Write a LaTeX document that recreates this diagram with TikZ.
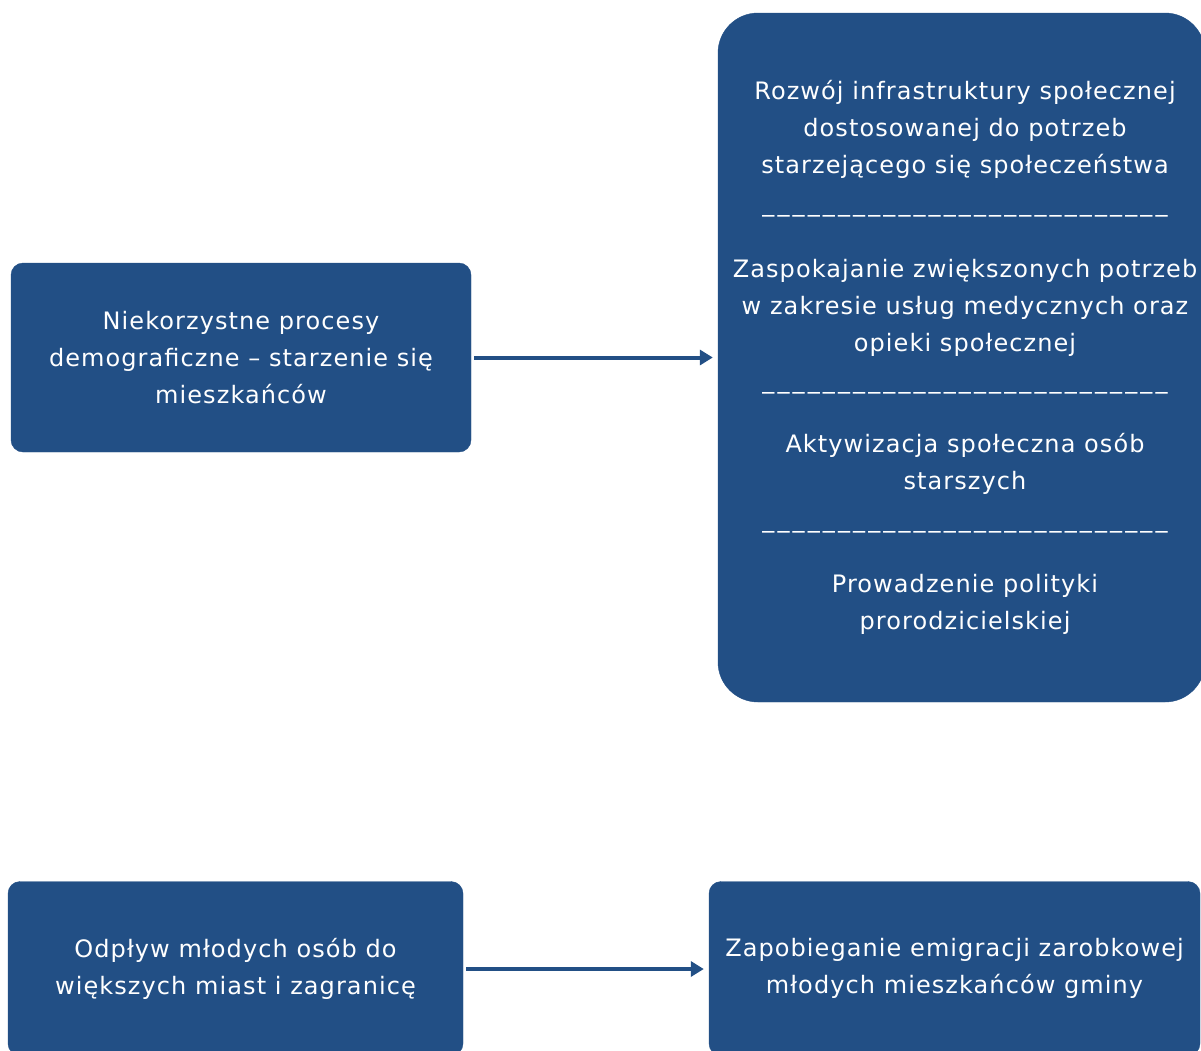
\documentclass[tikz,border=0pt]{standalone}
\usepackage{fontspec}
\setmainfont{DejaVu Sans}[LetterSpace=4.5]
\usetikzlibrary{positioning}
\usetikzlibrary{arrows.meta}
\definecolor{boxblue}{HTML}{224F85}

\begin{document}
\begin{tikzpicture}[x=1pt, y=1pt,
    box/.style={fill=boxblue, draw=boxblue, rounded corners=12pt, text=white, align=center, inner sep=0pt, font=\fontsize{24}{37}\selectfont},
    txt/.style={text=white, align=center, inner sep=0pt, font=\fontsize{24}{37}\selectfont},
    dashline/.style={txt, font=\fontsize{24}{37}\selectfont\addfontfeature{LetterSpace=13}},
    link/.style={draw=boxblue, line width=4pt, -{Triangle[length=13pt, width=15pt]}, shorten <=3pt, shorten >=5pt}]
  \useasboundingbox (0,0) rectangle (1201,-1050);
  \clip (0,0) rectangle (1201,-1050);

  % boxes
  \node[box, minimum width=460pt, minimum height=189pt] (ageing) at (241,-357.5)
    {Niekorzystne procesy\\demograficzne -- starzenie się\\mieszkańców};
  \node[box, rounded corners=40pt, minimum width=487pt, minimum height=689pt] (answers) at (961.5,-357.5) {};
  \node[box, minimum width=455pt, minimum height=174pt] (outflow) at (235.5,-968.5)
    {Odpływ młodych osób do\\większych miast i zagranicę};
  \node[box, minimum width=491pt, minimum height=174pt] (prevent) at (954.5,-968.5)
    {Zapobieganie emigracji zarobkowej\\młodych mieszkańców gminy};

  % texts in the right box
  \node[txt] (infra) at (965,-129) {Rozwój infrastruktury społecznej\\dostosowanej do potrzeb\\starzejącego się społeczeństwa};
  \node[dashline] (sep1) at (965,-214) {\_\_\_\_\_\_\_\_\_\_\_\_\_\_\_\_\_\_\_\_\_\_\_\_\_\_\_};
  \node[txt] (care) at (965,-307.5) {Zaspokajanie zwiększonych potrzeb\\w zakresie usług medycznych oraz\\opieki społecznej};
  \node[dashline] (sep2) at (965,-391) {\_\_\_\_\_\_\_\_\_\_\_\_\_\_\_\_\_\_\_\_\_\_\_\_\_\_\_};
  \node[txt] (active) at (965,-463.5) {Aktywizacja społeczna osób\\starszych};
  \node[dashline] (sep3) at (965,-530) {\_\_\_\_\_\_\_\_\_\_\_\_\_\_\_\_\_\_\_\_\_\_\_\_\_\_\_};
  \node[txt] (family) at (965,-604.5) {Prowadzenie polityki\\prorodzicielskiej};

  % arrows
  \draw[link] (ageing) -- (answers);
  \draw[link] (outflow.east |- 0,-969) -- (prevent.west |- 0,-969);
\end{tikzpicture}
\end{document}
